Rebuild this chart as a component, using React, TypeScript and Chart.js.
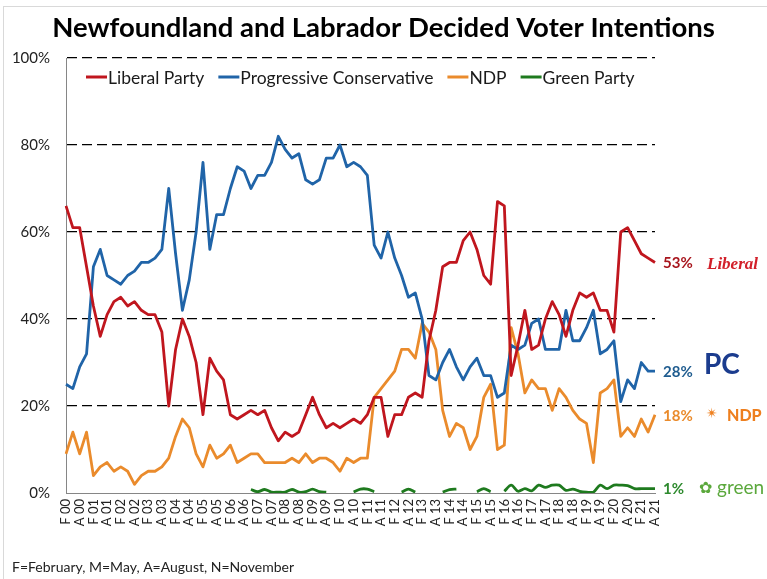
import React, { useEffect, useRef } from "react";
import { Chart, registerables } from "chart.js";

Chart.register(...registerables);

const TITLE = "Newfoundland and Labrador Decided Voter Intentions";
const FOOTNOTE = "F=February, M=May, A=August, N=November";

const YEARS = ["00","01","02","03","04","05","06","07","08","09","10","11","12","13","14","15","16","17","18","19","20","21"];
const QUARTERS = ["F", "M", "A", "N"];
// Quarterly categories F 00 ... A 21
const categories: string[] = YEARS.flatMap((y) => QUARTERS.map((q) => `${q} ${y}`)).slice(0, 87);

const liberal = [
  66, 61, 61, 52, 43, 36, 41, 44, 45, 43, 44, 42, 41, 41, 37, 20, 33, 40, 36, 30,
  18, 31, 28, 26, 18, 17, 18, 19, 18, 19, 15, 12, 14, 13, 14, 18, 22, 18, 15, 16,
  15, 16, 17, 16, 18, 22, 22, 13, 18, 18, 22, 23, 22, 35, 42, 52, 53, 53, 58, 60,
  56, 50, 48, 67, 66, 27, 34, 42, 33, 34, 40, 44, 41, 36, 42, 46, 45, 46, 42, 42,
  37, 60, 61, 58, 55, 54, 53,
];
const pc = [
  25, 24, 29, 32, 52, 56, 50, 49, 48, 50, 51, 53, 53, 54, 56, 70, 55, 42, 49, 60,
  76, 56, 64, 64, 70, 75, 74, 70, 73, 73, 76, 82, 79, 77, 78, 72, 71, 72, 77, 77,
  80, 75, 76, 75, 73, 57, 54, 60, 54, 50, 45, 46, 40, 27, 26, 30, 33, 29, 26, 29,
  31, 27, 27, 22, 23, 34, 33, 34, 39, 40, 33, 33, 33, 42, 35, 35, 38, 42, 32, 33,
  35, 21, 26, 24, 30, 28, 28,
];
const ndp = [
  9, 14, 9, 14, 4, 6, 7, 5, 6, 5, 2, 4, 5, 5, 6, 8, 13, 17, 15, 9,
  6, 11, 8, 9, 11, 7, 8, 9, 9, 7, 7, 7, 7, 8, 7, 9, 7, 8, 8, 7,
  5, 8, 7, 8, 8, 22, 24, 26, 28, 33, 33, 31, 39, 37, 33, 19, 13, 16, 15, 10,
  13, 22, 25, 10, 11, 38, 32, 23, 26, 24, 24, 19, 24, 22, 19, 17, 16, 7, 23, 24,
  26, 13, 15, 13, 17, 14, 18,
];
const green: (number | null)[] = [
  null, null, null, null, null, null, null, null, null, null, null, null, null, null, null, null, null, null, null, null,
  null, null, null, null, null, null, null, 0.8, 0.3, 0.8, 0.2, 0.2, 0.2, 0.8, 0.2, 0.3, 0.9, 0.3, 0.2, null,
  null, null, 0.2, 0.9, 0.9, 0.3, null, null, null, 0.2, 0.9, 0.2, null, null, null, 0.2, 0.8, 0.9, null, null,
  0.3, 1.0, 0.3, null, 0.4, 1.8, 0.4, 1.0, 0.5, 1.8, 1.3, 1.8, 1.8, 0.6, 0.9, 0.4, 0.2, 0.2, 1.8, 1.0,
  1.8, 1.8, 1.7, 1.0, 1.0, 1.0, 1.0,
];

const SERIES_NAMES = ["Liberal Party", "Progressive Conservative", "NDP", "Green Party"];
const SERIES_COLORS = ["#C0161E", "#2064A8", "#EA8B2C", "#1E7A1E"];
const LABEL_COLORS = ["#A8161E", "#1F5C8F", "#EA8B2C", "#2E8A2E"];
const END_LABELS = ["53%", "28%", "18%", "1%"];
const END_VALUES = [53, 28, 18, 1];

const FONT = "Lato, 'Open Sans', sans-serif";

const extrasPlugin = {
  id: "extras",
  afterDraw(chart: any) {
    const { ctx, chartArea, scales } = chart;
    const y = scales.y;
    ctx.save();
    // frame
    ctx.strokeStyle = "#d9d9d9";
    ctx.lineWidth = 1;
    ctx.strokeRect(3.5, 6.5, 820, 620);

    // title
    ctx.fillStyle = "#000";
    ctx.font = `bold 27.5px ${FONT}`;
    ctx.textAlign = "center";
    ctx.textBaseline = "middle";
    ctx.fillText(TITLE, 383.5, 28);

    // legend
    ctx.font = `17.5px ${FONT}`;
    ctx.textAlign = "left";
    let lx = 86;
    const ly = 77;
    SERIES_NAMES.forEach((name, i) => {
      ctx.strokeStyle = SERIES_COLORS[i];
      ctx.lineWidth = 3;
      ctx.beginPath();
      ctx.moveTo(lx, ly);
      ctx.lineTo(lx + 21, ly);
      ctx.stroke();
      ctx.fillStyle = "#1a1a1a";
      ctx.fillText(name, lx + 22, ly + 1);
      lx += 22 + ctx.measureText(name).width + 14;
    });

    // end labels
    ctx.font = `bold 15px ${FONT}`;
    END_VALUES.forEach((v, i) => {
      const py = y.getPixelForValue(v);
      ctx.fillStyle = LABEL_COLORS[i];
      ctx.fillText(END_LABELS[i], chartArea.right + 8, py + 1);
    });

    // party marks (text approximations of logos)
    const pyL = y.getPixelForValue(53);
    ctx.fillStyle = "#D2202A";
    ctx.font = `italic bold 17px 'Liberation Serif', serif`;
    ctx.fillText("Liberal", 707, pyL + 2);

    const pyP = y.getPixelForValue(28);
    ctx.fillStyle = "#1B3C8E";
    ctx.font = `bold 28px ${FONT}`;
    ctx.fillText("PC", 704, pyP - 6);

    const pyN = y.getPixelForValue(18);
    ctx.fillStyle = "#EE7F1E";
    ctx.font = `bold 14px 'DejaVu Sans', sans-serif`;
    ctx.fillText("\u2734", 706, pyN);
    ctx.font = `900 16px ${FONT}`;
    ctx.fillText("NDP", 727, pyN + 1);

    const pyG = y.getPixelForValue(1);
    ctx.fillStyle = "#5BA83C";
    ctx.font = `16px 'DejaVu Sans', sans-serif`;
    ctx.fillText("\u273F", 699, pyG);
    ctx.font = `19px ${FONT}`;
    ctx.fillText("green", 717, pyG - 1);

    // footnote
    ctx.fillStyle = "#222";
    ctx.font = `14px ${FONT}`;
    ctx.fillText(FOOTNOTE, 12, 567);
    ctx.restore();
  },
};

export default function App() {
  const canvasRef = useRef<HTMLCanvasElement | null>(null);

  useEffect(() => {
    if (!canvasRef.current) return;
    const seriesData = [liberal, pc, ndp, green];
    const chart = new Chart(canvasRef.current, {
      type: "line",
      data: {
        labels: categories,
        datasets: seriesData.map((d, i) => ({
          label: SERIES_NAMES[i],
          data: d,
          borderColor: SERIES_COLORS[i],
          backgroundColor: SERIES_COLORS[i],
          borderWidth: 2.8,
          pointRadius: 0,
          tension: i === 3 ? 0.3 : 0,
          spanGaps: false,
          borderJoinStyle: "round" as const,
        })),
      },
      options: {
        responsive: false,
        animation: false,
        devicePixelRatio: 1,
        layout: { padding: { top: 58, right: 112, left: 0, bottom: 0 } },
        plugins: {
          legend: { display: false },
          title: { display: false },
          tooltip: { enabled: false },
        },
        scales: {
          x: {
            type: "category",
            offset: false,
            grid: { display: false, drawTicks: false },
            border: { display: true, color: "#868686", width: 1 },
            ticks: {
              autoSkip: false,
              maxRotation: 90,
              minRotation: 90,
              padding: 6,
              color: "#222",
              font: { family: FONT, size: 13 },
              callback: (_v: any, idx: number) => (idx % 2 === 0 ? categories[idx] : ""),
            },
            afterFit: (s: any) => {
              s.height = 86;
            },
          },
          y: {
            min: 0,
            max: 100,
            grid: {
              drawTicks: false,
              color: (c: any) => (c.tick && c.tick.value === 0 ? "rgba(0,0,0,0)" : "#000"),
              lineWidth: 1.2,
            },
            border: { display: true, color: "#868686", width: 1, dash: [10, 5] } as any,
            ticks: {
              stepSize: 20,
              padding: 16,
              color: "#222",
              font: { family: FONT, size: 15 },
              callback: (v: any) => `${v}%`,
            },
            afterFit: (s: any) => {
              s.width = 66;
            },
          },
        },
      },
      plugins: [extrasPlugin],
    } as any);
    return () => chart.destroy();
  }, []);

  return (
    <div style={{ position: "fixed", left: 0, top: 0, width: 767, height: 579, background: "#fff" }}>
      <canvas ref={canvasRef} width={767} height={579} style={{ width: 767, height: 579, display: "block" }} />
    </div>
  );
}
